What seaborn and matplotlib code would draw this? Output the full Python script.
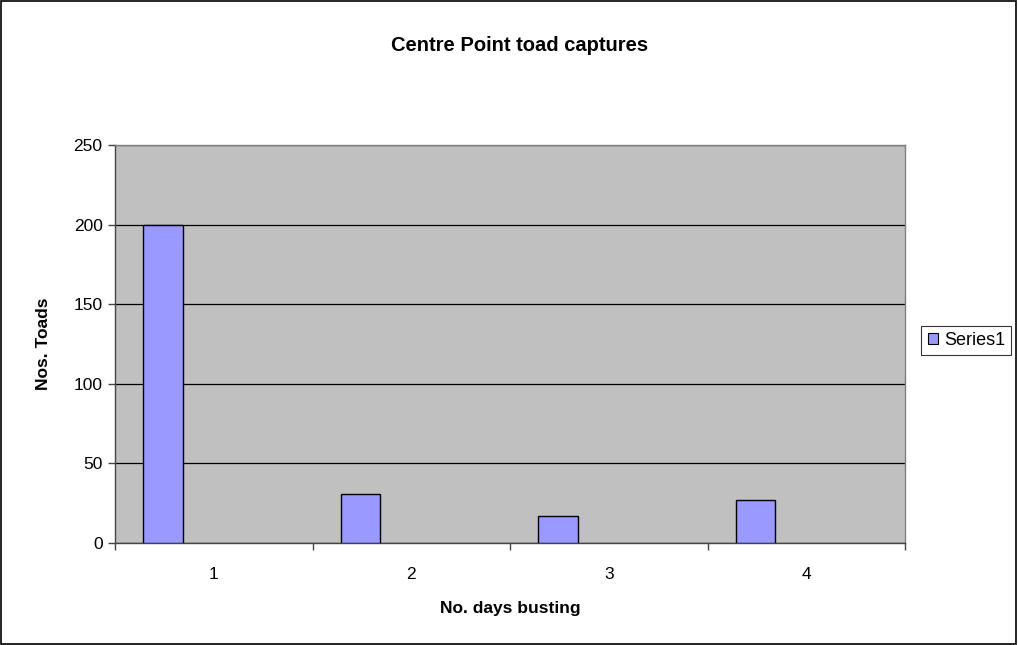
import matplotlib
matplotlib.use("Agg")
import matplotlib.pyplot as plt
import seaborn as sns
import pandas as pd
from matplotlib.patches import Rectangle

# Data
days = ["1", "2", "3", "4"]
toads = [200, 31, 17, 27]
series_name = "Series1"

df = pd.DataFrame({"day": days, "toads": toads})

sns.set_style("white")
plt.rcParams["font.family"] = ["Liberation Sans", "DejaVu Sans"]
plt.rcParams["text.color"] = "black"
plt.rcParams["axes.labelcolor"] = "black"
plt.rcParams["xtick.color"] = "black"
plt.rcParams["ytick.color"] = "black"

fig = plt.figure(figsize=(10.18, 6.45), dpi=100)
fig.patch.set_facecolor("white")
fig.patches.append(Rectangle((0.001, 0.002), 0.997, 0.996, transform=fig.transFigure,
                             fill=False, edgecolor="black", linewidth=1.2))

ax = fig.add_axes([0.113, 0.158, 0.776, 0.617])
ax.set_facecolor("#C0C0C0")

sns.barplot(data=df, x="day", y="toads", color="#9999FF", width=0.2,
            edgecolor="black", linewidth=1.0, saturation=1, ax=ax, zorder=3)

# Excel-style placement: bars sit left of the category centre
for p in ax.patches:
    p.set_x(p.get_x() - 0.257)

ax.set_xlim(-0.5, len(days) - 0.5)
ax.set_ylim(0, 250)
ax.set_yticks(range(0, 251, 50))
ax.yaxis.grid(True, color="black", linewidth=0.9, zorder=1)
ax.set_axisbelow(True)

# ticks at category boundaries, labels at centres
ax.set_xticks([i - 0.5 for i in range(len(days) + 1)])
ax.set_xticklabels([])
ax.set_xticks(range(len(days)), minor=True)
ax.set_xticklabels(days, minor=True)
ax.tick_params(axis="x", which="major", length=5, width=1, color="#444444", direction="out", bottom=True)
ax.tick_params(axis="x", which="minor", length=0, labelsize=12.5, pad=17)
ax.tick_params(axis="y", length=5, width=1, color="#444444", direction="out", left=True, labelsize=12.5, pad=4)

for side in ["left", "bottom"]:
    ax.spines[side].set_color("#444444")
    ax.spines[side].set_linewidth(1.0)
for side in ["top", "right"]:
    ax.spines[side].set_color("#808080")
    ax.spines[side].set_linewidth(1.0)

ax.set_xlabel("No. days busting", fontsize=12.5, fontweight="bold", labelpad=14)
ax.set_ylabel("Nos. Toads", fontsize=12.5, fontweight="bold", labelpad=16)
fig.text(0.51, 0.93, "Centre Point toad captures", ha="center", va="center",
         fontsize=14.5, fontweight="bold")

handle = Rectangle((0, 0), 1, 1, facecolor="#9999FF", edgecolor="black", linewidth=0.8)
leg = fig.legend([handle], [series_name], loc="center left",
                 bbox_to_anchor=(0.905, 0.472), frameon=True, fancybox=False,
                 fontsize=13, handlelength=0.6, handleheight=0.6, handletextpad=0.3,
                 borderpad=0.35, borderaxespad=0)
leg.get_frame().set_edgecolor("black")
leg.get_frame().set_linewidth(0.8)

fig.savefig("out.png", dpi=100)
